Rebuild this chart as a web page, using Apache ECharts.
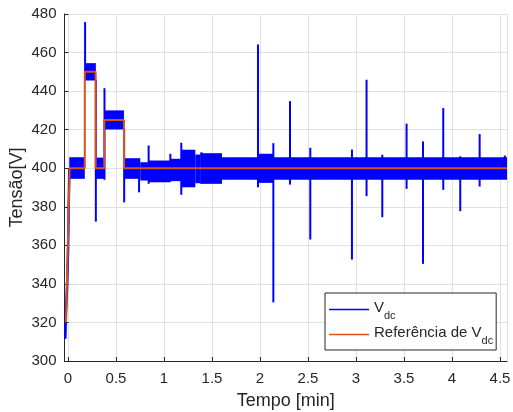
<!DOCTYPE html>
<html>
<head>
<meta charset="utf-8">
<script src="https://cdn.jsdelivr.net/npm/echarts@6/dist/echarts.min.js"></script>
<style>
html,body{margin:0;padding:0;background:#fff;}
#chart{width:513px;height:412px;}
</style>
</head>
<body>
<div id="chart"></div>
<script>
// Reference V_dc (time [min], voltage [V])
const refLine = [[-0.021,320],[0.017,400],[0.175,400],[0.175,450],[0.288,450],[0.288,400],[0.378,400],[0.378,425],[0.583,425],[0.583,400],[4.573,400]];
// Measured V_dc start-up ramp (time, voltage)
const vdcRamp = [[-0.028,311.5],[-0.021,326],[-0.010,338],[0.0,356],[0.006,376],[0.0135,400]];
// Measured V_dc ripple envelope: [tStart, tEnd, low, high]
const vdcBands = [
  [0.0135,0.175,394.5,405.7],
  [0.175,0.290,445.5,454.5],
  [0.290,0.378,394.5,405.5],
  [0.378,0.583,420.1,430.0],
  [0.583,0.753,394.5,405.2],
  [0.753,0.840,393.6,403.1],
  [0.840,1.066,392.7,404.0],
  [1.066,1.180,393.3,404.9],
  [1.180,1.326,390.1,409.6],
  [1.326,1.378,392.2,407.1],
  [1.378,1.604,391.9,407.8],
  [1.604,1.979,394.0,405.7],
  [1.979,2.139,392.4,407.5],
  [2.139,4.573,394.0,405.7]
];
// Measured V_dc transients: [t, min, max]
const vdcSpikes = [
  [0.178,446.0,475.8],
  [0.290,372.3,446.0],
  [0.380,394.0,441.5],
  [0.585,382.3,421.0],
  [0.740,387.5,400.0],
  [0.840,391.9,411.8],
  [1.066,393.0,407.5],
  [1.180,386.2,413.2],
  [1.390,392.0,408.3],
  [1.979,390.1,464.2],
  [2.139,330.4,413.0],
  [2.3125,391.5,434.8],
  [2.524,363.0,410.6],
  [2.958,352.6,409.7],
  [3.110,385.5,445.9],
  [3.274,374.6,407.0],
  [3.527,389.3,423.1],
  [3.698,350.4,413.9],
  [3.909,388.8,431.2],
  [4.086,377.7,406.2],
  [4.288,390.5,417.7],
  [4.550,395.0,406.6]
];
const yTicks = {min:300, max:480, step:20};
const xRange = {min:-0.0365, max:4.573};

const BLUE = '#0000ff';
const ORANGE = '#d95319';
const AX = '#262626';
const FONT = '"Liberation Sans", Arial, Helvetica, sans-serif';

const chart = echarts.init(document.getElementById('chart'), null, {renderer:'canvas'});
const option = {
  animation: false,
  backgroundColor: '#fff',
  grid: {left: 64.5, right: 6, top: 14, bottom: 51, containLabel: false, outerBoundsMode: 'none'},
  xAxis: {
    type: 'value', min: xRange.min, max: xRange.max, splitNumber: 9,
    name: 'Tempo [min]', nameLocation: 'middle', nameGap: 31,
    nameTextStyle: {fontFamily: FONT, fontSize: 18, color: AX},
    axisLine: {show: true, onZero: false, lineStyle: {color: AX, width: 1}},
    axisTick: {show: true, inside: true, length: 4, lineStyle: {color: AX}},
    axisLabel: {showMinLabel: false, showMaxLabel: false, margin: 10, fontFamily: FONT, fontSize: 15, color: AX},
    splitLine: {show: true, lineStyle: {color: '#e1e1e1', width: 1}}
  },
  yAxis: {
    type: 'value', min: yTicks.min, max: yTicks.max, interval: yTicks.step,
    name: 'Tensão[V]', nameLocation: 'middle', nameGap: 38, nameMoveOverlap: false,
    nameTextStyle: {fontFamily: FONT, fontSize: 18, color: AX},
    axisLine: {show: true, onZero: false, lineStyle: {color: AX, width: 1}},
    axisTick: {show: true, inside: true, length: 4, lineStyle: {color: AX}},
    axisLabel: {margin: 8, fontFamily: FONT, fontSize: 15, color: AX},
    splitLine: {show: true, lineStyle: {color: '#e1e1e1', width: 1}}
  },
  legend: {
    orient: 'vertical', left: 325, top: 293,
    data: ['Vdc', 'Ref'],
    icon: 'rect',
    itemWidth: 40, itemHeight: 1.6, itemGap: 2,
    padding: [5, 3, 4, 4],
    backgroundColor: '#fff', borderColor: AX, borderWidth: 1, borderRadius: 0,
    selectedMode: false,
    formatter: function (name) {
      return name === 'Vdc' ? '{a|V}{s|dc}' : '{a|Referência de V}{s|dc}';
    },
    textStyle: {
      fontFamily: FONT, color: AX,
      rich: {
        a: {fontFamily: FONT, fontSize: 15, lineHeight: 17, color: AX, padding: [0, 0, 4, 0]},
        s: {fontFamily: FONT, fontSize: 11, lineHeight: 13, color: AX, padding: [12, 0, 0, 0]}
      }
    }
  },
  series: [
    {
      name: 'Vdc', type: 'line', data: vdcRamp, symbol: 'none', z: 3,
      lineStyle: {color: BLUE, width: 2.5}, itemStyle: {color: BLUE}
    },
    {
      name: 'VdcBand', type: 'custom', data: vdcBands, z: 2, clip: true,
      encode: {x: [0, 1], y: [2, 3]},
      renderItem: function (params, api) {
        const p0 = api.coord([api.value(0), api.value(3)]);
        const p1 = api.coord([api.value(1), api.value(2)]);
        return {type: 'rect', shape: {x: p0[0], y: p0[1], width: p1[0] - p0[0], height: p1[1] - p0[1]}, style: {fill: BLUE}};
      }
    },
    {
      name: 'VdcSpike', type: 'custom', data: vdcSpikes, z: 2, clip: true,
      encode: {x: 0, y: [1, 2]},
      renderItem: function (params, api) {
        const p0 = api.coord([api.value(0), api.value(1)]);
        const p1 = api.coord([api.value(0), api.value(2)]);
        return {type: 'line', shape: {x1: p0[0], y1: p0[1], x2: p1[0], y2: p1[1]}, style: {stroke: BLUE, lineWidth: 2}};
      }
    },
    {
      name: 'Ref', type: 'line', data: refLine, symbol: 'none', z: 4,
      lineStyle: {color: ORANGE, width: 2}, itemStyle: {color: ORANGE}
    }
  ]
};
chart.setOption(option);
</script>
</body>
</html>
